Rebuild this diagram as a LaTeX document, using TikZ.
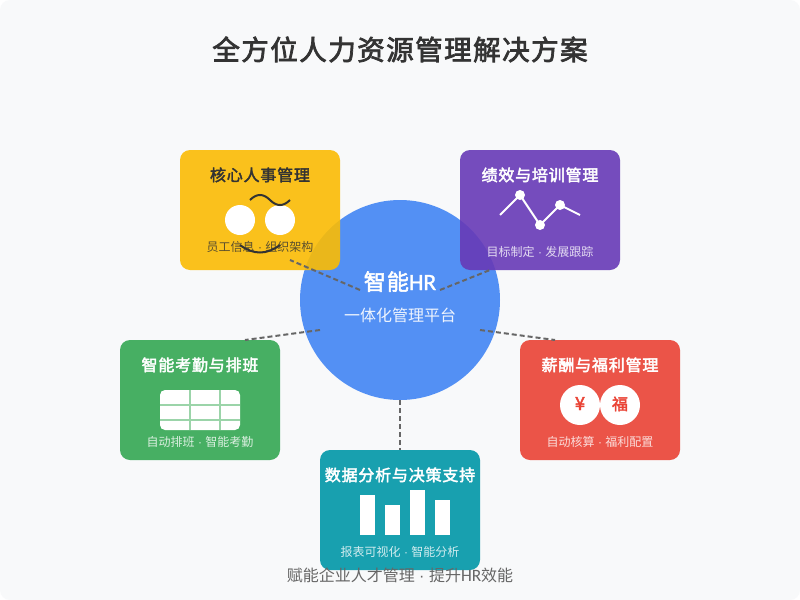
\documentclass[tikz,border=0pt]{standalone}
\usepackage{fontspec}
\setmainfont{Noto Sans CJK SC}
\newfontfamily\fb[FakeBold=2.6,LetterSpace=5]{Noto Sans CJK SC}
\newfontfamily\latn{Carlito}
\newfontfamily\latb[FakeBold=1.6]{Carlito}
\newfontfamily\dotf{Liberation Sans}
\newcommand{\sep}{{\dotf\ ·\ }}
\definecolor{bgc}{HTML}{F8F9FA}
\definecolor{ink}{HTML}{333333}
\definecolor{cblue}{HTML}{4285F4}
\definecolor{cyellow}{HTML}{FBBC04}
\definecolor{cpurple}{HTML}{673AB7}
\definecolor{cgreen}{HTML}{34A853}
\definecolor{cred}{HTML}{EA4335}
\definecolor{cteal}{HTML}{0097A7}
\definecolor{cgrid}{HTML}{9BD4A9}
\definecolor{cline}{HTML}{666666}
\begin{document}
\begin{tikzpicture}[x=0.75pt,y=-0.75pt,
  card/.style={rounded corners=7.5pt,fill opacity=.9,draw=none},
  lbl/.style={inner sep=0pt,anchor=base,align=center},
  ttl/.style={lbl,font=\fontsize{12}{14}\selectfont\fb},
  sub/.style={lbl,font=\fontsize{9}{11}\selectfont,text opacity=.8},
  link/.style={draw=cline,line width=1.5pt,dash pattern=on 3.75pt off 2.25pt},
  wl/.style={draw=white,line width=1.5pt},
  dot/.style={circle,fill=white,inner sep=0pt,minimum size=#1*.75pt},
  bar/.style={fill=white}]
\useasboundingbox (0,0) rectangle (800,600);
\fill[white] (0,0) rectangle (800,600);
\fill[bgc,rounded corners=7.5pt] (0,0) rectangle (800,600);
\node[lbl,text=ink,font=\fontsize{20.7}{26}\selectfont\fb] (title) at (400,60) {全方位人力资源管理解决方案};
% hub
\node[circle,fill=cblue,fill opacity=.9,inner sep=0pt,minimum size=150pt] (hub) at (400,300) {};
% yellow card
\fill[card,fill=cyellow] (180,150) rectangle (340,270);
\node[ttl,text=ink] (t1) at (260,181) {核心人事管理};
\node[dot=30] (e1) at (240,220) {};
\node[dot=30] (e2) at (280,220) {};
\draw[draw=ink,line width=1.5pt] (250,200) .. controls (256.7,193.3) and (263.3,193.3) .. (270,200) .. controls (276.7,206.7) and (283.3,206.7) .. (290,200);
\draw[draw=ink,line width=1.5pt] (240,245) .. controls (253.3,255) and (266.7,255) .. (280,245);
\node[sub,text=ink] (s1) at (260,251) {员工信息\sep 组织架构};
% purple card
\fill[card,fill=cpurple] (460,150) rectangle (620,270);
\node[ttl,text=white] (t2) at (540,181) {绩效与培训管理};
\draw[wl] (500,215) -- (520,195) -- (540,225) -- (560,205) -- (580,215);
\node[dot=10] (p1) at (520,195) {};
\node[dot=10] (p2) at (540,225) {};
\node[dot=10] (p3) at (560,205) {};
\node[sub,text=white] (s2) at (540,256) {目标制定\sep 发展跟踪};
% green card
\fill[card,fill=cgreen] (120,340) rectangle (280,460);
\node[ttl,text=white] (t3) at (200,371) {智能考勤与排班};
\fill[white,rounded corners=3.75pt] (160,390) rectangle (240,430);
\draw[draw=cgrid,line width=1.5pt] (190,390) -- (190,430) (220,390) -- (220,430) (160,405) -- (240,405) (160,420) -- (240,420);
\node[sub,text=white] (s3) at (200,446) {自动排班\sep 智能考勤};
% red card
\fill[card,fill=cred] (520,340) rectangle (680,460);
\node[ttl,text=white] (t4) at (600,371) {薪酬与福利管理};
\node[dot=40] (c1) at (580,405) {};
\node[dot=40] (c2) at (620,405) {};
\node[ttl,text=cred,font=\fontsize{13.5}{14}\selectfont\fb] (y1) at (580,410) {¥};
\node[ttl,text=cred] (y2) at (620,410) {福};
\node[sub,text=white] (s4) at (600,446) {自动核算\sep 福利配置};
% teal card
\fill[card,fill=cteal] (320,450) rectangle (480,570);
\node[ttl,text=white] (t5) at (400,481) {数据分析与决策支持};
\fill[bar] (360,495) rectangle (375,535);
\fill[bar] (385,505) rectangle (400,535);
\fill[bar] (410,490) rectangle (425,535);
\fill[bar] (435,500) rectangle (450,535);
\node[sub,text=white] (s5) at (400,556) {报表可视化\sep 智能分析};
% hub text
\node[lbl,text=white,font=\fontsize{16.5}{20}\selectfont\fb] (h1) at (400,290) {智能{\latb\fontsize{17.5}{20}\selectfont HR}};
\node[lbl,text=white,text opacity=.9,font=\fontsize{12}{14}\selectfont] (h2) at (400,321) {一体化管理平台};
% connectors
\coordinate (a1) at (360,290); \coordinate (b1) at (290,260);
\coordinate (a2) at (440,290); \coordinate (b2) at (490,270);
\coordinate (a3) at (320,330); \coordinate (b3) at (245,340);
\coordinate (a4) at (480,330); \coordinate (b4) at (555,340);
\coordinate (a5) at (400,400); \coordinate (b5) at (400,450);
\draw[link] (a1) -- (b1);
\draw[link] (a2) -- (b2);
\draw[link] (a3) -- (b3);
\draw[link] (a4) -- (b4);
\draw[link] (a5) -- (b5);
\node[lbl,text=cline,font=\fontsize{12}{14}\selectfont] (foot) at (400,581) {赋能企业人才管理\sep 提升{\latn\fontsize{13}{14}\selectfont HR}效能};
\end{tikzpicture}
\end{document}
